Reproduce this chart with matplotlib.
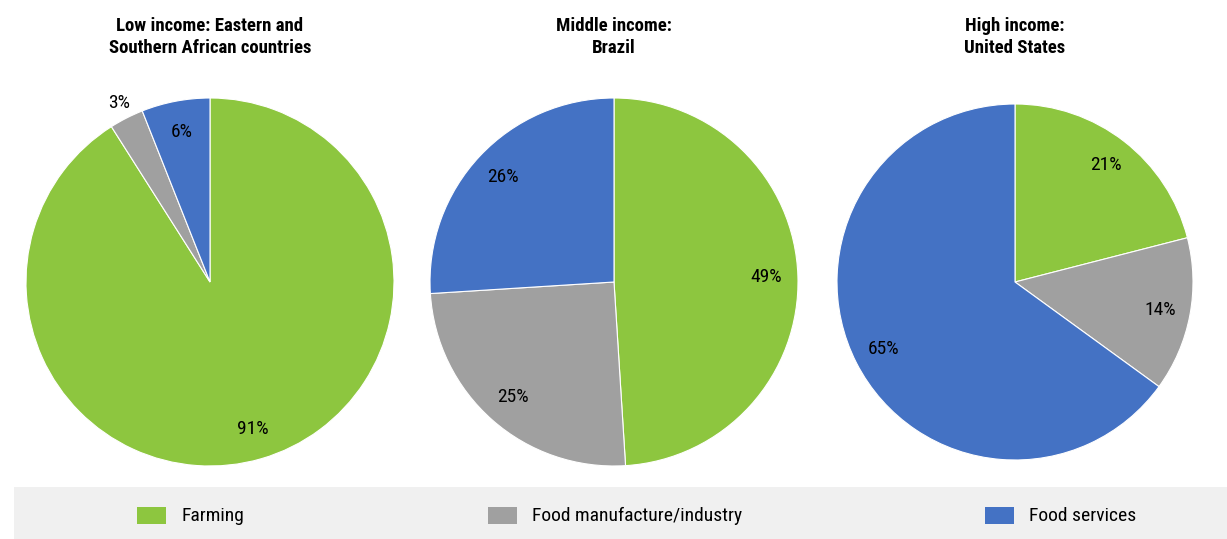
import matplotlib
matplotlib.use("Agg")
import matplotlib.pyplot as plt
from matplotlib.patches import Rectangle

# donnees
categories = ["Farming", "Food manufacture/industry", "Food services"]
titres = [
    "Low income: Eastern and\nSouthern African countries",
    "Middle income:\nBrazil",
    "High income:\nUnited States",
]
low_income = [91, 3, 6]
middle_income = [49, 25, 26]
high_income = [21, 14, 65]

couleurs = ["#8DC63F", "#A0A0A0", "#4472C4"]

# police etroite proche de l Arial Narrow
plt.rcParams["font.family"] = ["Roboto Condensed", "Liberation Sans", "DejaVu Sans"]

W, H = 1227, 539
fig = plt.figure(figsize=(W / 100, H / 100), dpi=100)

# boite de legende grise en bas
fig.patches.append(Rectangle((14 / W, 0), 1, 52 / H, transform=fig.transFigure,
                             facecolor="#F0F0F0", edgecolor="none", zorder=0))

# position des camemberts en pixels : centre x, centre y (depuis le haut), rayon
positions = [(210, 282, 184), (614, 282, 184), (1015, 282, 178)]
series = [low_income, middle_income, high_income]

for valeurs, titre, (cx, cy, r) in zip(series, titres, positions):
    ax = fig.add_axes([(cx - r) / W, (H - cy - r) / H, 2 * r / W, 2 * r / H])
    wedges, textes, autotextes = ax.pie(
        valeurs, colors=couleurs, startangle=90, counterclock=False,
        autopct="%1.0f%%", pctdistance=0.83,
        wedgeprops=dict(edgecolor="white", linewidth=0.8),
        textprops=dict(fontsize=14, color="black"),
    )
    ax.set_xlim(-1, 1)
    ax.set_ylim(-1, 1)
    ax.set_aspect("equal")
    # titre en gras au dessus
    fig.text(cx / W, 1 - 37 / H, titre, ha="center", va="center",
             fontsize=13.5, fontweight="bold", linespacing=1.25)
    # le 3% est place a l exterieur du camembert
    if valeurs is low_income:
        x, y = autotextes[1].get_position()
        autotextes[1].set_position((x * 1.09 / 0.83, y * 1.09 / 0.83))

# legende faite a la main
legende_x = [137, 488, 985]
for cat, coul, lx in zip(categories, couleurs, legende_x):
    fig.patches.append(Rectangle((lx / W, (H - 524) / H), 29 / W, 17 / H,
                                 transform=fig.transFigure, facecolor=coul,
                                 edgecolor="none", zorder=1))
    fig.text((lx + 44) / W, (H - 516) / H, cat, ha="left", va="center",
             fontsize=14)

fig.savefig("out.png", dpi=100)
